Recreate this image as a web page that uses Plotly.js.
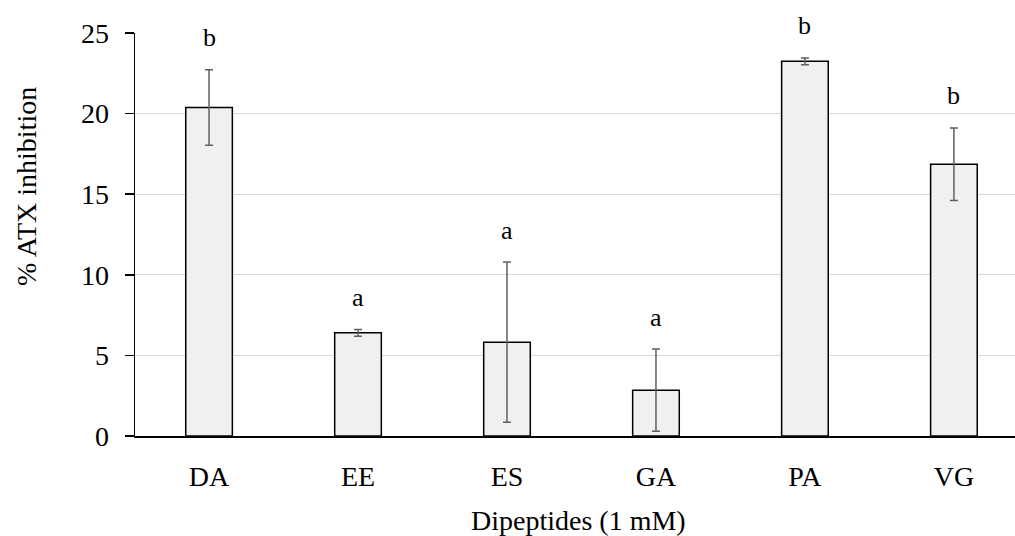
<!DOCTYPE html>
<html>
<head>
<meta charset="utf-8">
<script src="https://cdn.plot.ly/plotly-3.0.1.min.js"></script>
<style>
html,body{margin:0;padding:0;background:#fff;}
#chart{width:1015px;height:536px;}
</style>
</head>
<body>
<div id="chart"></div>
<script>
const categories = ['DA', 'EE', 'ES', 'GA', 'PA', 'VG'];
const inhibition = [20.38, 6.40, 5.82, 2.84, 23.24, 16.86];
const errors = [2.34, 0.21, 4.97, 2.55, 0.21, 2.25];
const groupLetters = ['b', 'a', 'a', 'a', 'b', 'b'];
const yTicks = [0, 5, 10, 15, 20, 25];

const FONT = 'Liberation Serif, Times New Roman, serif';
const fs = 28;

const trace = {
  type: 'bar',
  x: categories,
  y: inhibition,
  marker: {color: '#f0f0f0', line: {color: '#000000', width: 1.5}},
  error_y: {type: 'data', array: errors, visible: true, color: '#5f5f5f', thickness: 1.5, width: 4},
  hoverinfo: 'x+y'
};

const annotations = categories.map((c, i) => ({
  x: c, y: inhibition[i] + errors[i],
  xref: 'x', yref: 'y',
  yshift: 32,
  text: groupLetters[i], showarrow: false,
  xanchor: 'center', yanchor: 'middle',
  font: {family: FONT, size: 26, color: '#000'}
}));
annotations.push({
  xref: 'paper', yref: 'paper', x: 0.5045, y: 0, yshift: -84,
  text: 'Dipeptides (1 mM)', showarrow: false,
  xanchor: 'center', yanchor: 'middle',
  font: {family: FONT, size: fs, color: '#000'}
});
annotations.push({
  xref: 'paper', yref: 'paper', x: 0, xshift: -108, y: 0.618,
  text: '% ATX inhibition', showarrow: false, textangle: -90,
  xanchor: 'center', yanchor: 'middle',
  font: {family: FONT, size: fs, color: '#000'}
});

const layout = {
  width: 1015, height: 536,
  margin: {l: 135, r: 0, t: 33, b: 100, pad: 0},
  paper_bgcolor: '#ffffff', plot_bgcolor: '#ffffff',
  showlegend: false,
  bargap: 0.687,
  font: {family: FONT, size: fs, color: '#000'},
  xaxis: {
    type: 'category',
    range: [-0.497, 5.41],
    showgrid: false, zeroline: false,
    showline: true, linecolor: '#000', linewidth: 2,
    ticks: '', ticklabelstandoff: 14,
    tickfont: {family: FONT, size: fs, color: '#000'}
  },
  yaxis: {
    range: [0, 25],
    tickvals: yTicks, ticktext: yTicks.map(String),
    showgrid: true, gridcolor: '#d9d9d9', gridwidth: 1.3,
    zeroline: false,
    showline: true, linecolor: '#000', linewidth: 1.5,
    ticks: 'outside', ticklen: 9, tickcolor: '#000', tickwidth: 1.5,
    ticklabelstandoff: 10,
    tickfont: {family: FONT, size: fs, color: '#000'}
  },
  annotations: annotations
};

Plotly.newPlot('chart', [trace], layout, {displayModeBar: false, staticPlot: true});
</script>
</body>
</html>
